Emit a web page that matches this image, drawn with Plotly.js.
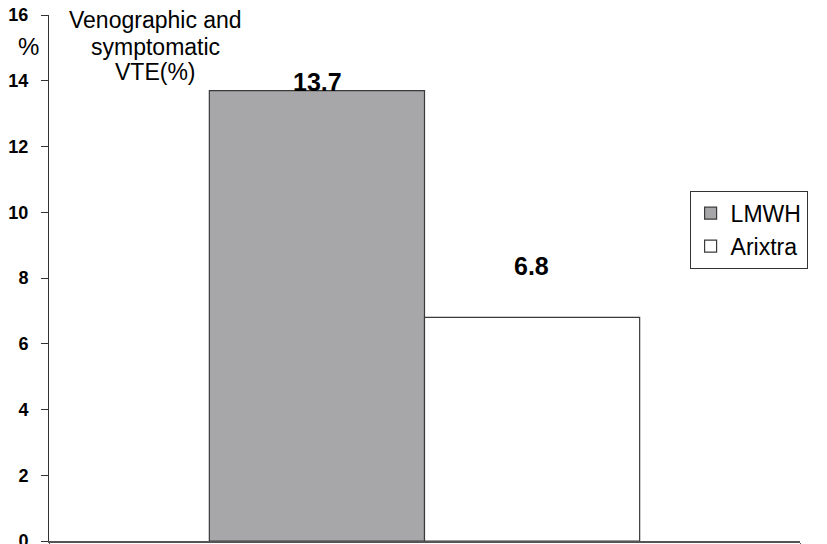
<!DOCTYPE html>
<html><head><meta charset="utf-8">
<script src="https://cdn.plot.ly/plotly-3.0.1.min.js"></script>
<style>html,body{margin:0;padding:0;background:#fff}#chart{width:827px;height:544px}</style>
</head><body><div id="chart"></div>
<script>
const seriesNames = ['LMWH', 'Arixtra'];
const seriesValues = [13.7, 6.8];
const seriesColors = ['#a7a7a9', '#ffffff'];
const labelY = [13.97, 8.37];
const yTicks = [0, 2, 4, 6, 8, 10, 12, 14, 16];
const titleLines = ['Venographic and', 'symptomatic', 'VTE(%)'];

const FONT = 'Liberation Sans, Arial, sans-serif';
const traces = seriesNames.map((n, i) => ({
  type: 'bar', name: n, x: [''], y: [seriesValues[i]],
  marker: {color: seriesColors[i], line: {color: '#3a3a3a', width: 1.2}},
  hoverinfo: 'skip'
}));

const annotations = seriesNames.map((n, i) => ({
  x: i === 0 ? -0.143 : 0.143, xref: 'x', y: labelY[i], yref: 'y',
  text: '<b>' + seriesValues[i].toFixed(1) + '</b>', showarrow: false,
  font: {family: FONT, size: 25, color: '#000'}
}));
const titleY = [0.991, 0.94, 0.8907];
titleLines.forEach((t, i) => annotations.push({
  text: t, xref: 'paper', yref: 'paper', x: 0.142, y: titleY[i],
  xanchor: 'center', yanchor: 'middle', showarrow: false,
  font: {size: 23, family: FONT, color: '#000'}
}));
annotations.push({text: '%', xref: 'paper', yref: 'paper', x: -0.027, y: 0.94,
  xanchor: 'center', yanchor: 'middle', showarrow: false,
  font: {size: 24, family: FONT, color: '#000'}});

const layout = {
  width: 827, height: 544,
  margin: {l: 49, r: 27, t: 15, b: 3},
  paper_bgcolor: '#fff', plot_bgcolor: '#fff',
  barmode: 'group', bargap: 0.427, bargroupgap: 0,
  font: {family: FONT, color: '#000'},
  showlegend: true,
  legend: {x: 0.853, xanchor: 'left', y: 0.666, yanchor: 'top',
    bordercolor: '#333', borderwidth: 1, bgcolor: '#fff',
    font: {size: 23, family: FONT}, tracegroupgap: 0, itemwidth: 30, entrywidth: 138},
  xaxis: {type: 'category', showticklabels: false, showline: true, linecolor: '#555', linewidth: 1.5,
    ticks: 'outside', tickson: 'boundaries', ticklen: 4, tickcolor: '#555', showgrid: false, zeroline: false},
  yaxis: {range: [0, 16], tickvals: yTicks, ticktext: yTicks.map(v => '<b>' + v + '</b>'),
    showline: true, linecolor: '#333', linewidth: 1, ticks: 'outside', ticklen: 7, tickcolor: '#333',
    showgrid: false, zeroline: false, tickfont: {size: 18, family: FONT}, ticklabelstandoff: 9,
    ticklabeloverflow: 'allow'},
  annotations: annotations
};
Plotly.newPlot('chart', traces, layout, {displayModeBar: false, staticPlot: true});
</script></body></html>
